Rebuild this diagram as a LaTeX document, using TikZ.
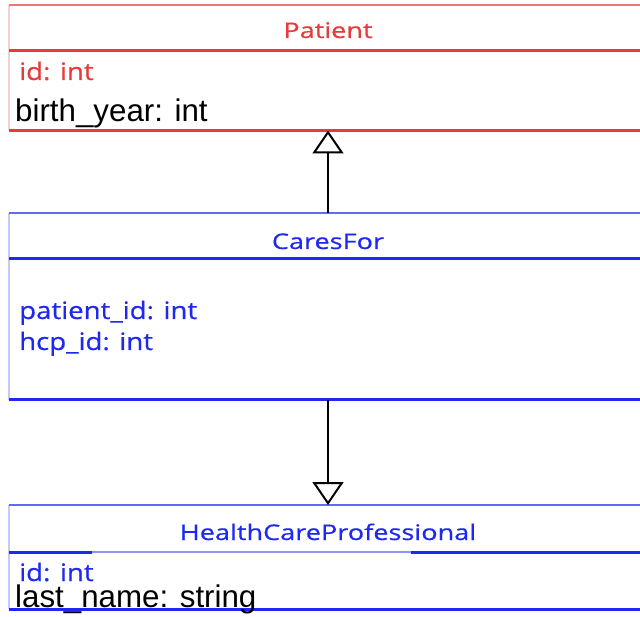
\documentclass[tikz,border=0pt]{standalone}
\usepackage{fontspec}
\newfontfamily\umltitlefont[FakeStretch=1.26,FakeBold=0.6]{Open Sans}
\newfontfamily\umlattrfont[FakeStretch=1.15,FakeBold=0.5]{Open Sans}
\newfontfamily\arialfont{Liberation Sans}
\usetikzlibrary{arrows.meta}
\definecolor{umlred}{RGB}{232,58,58}
\definecolor{umlblue}{RGB}{30,40,240}
\begin{document}
\begin{tikzpicture}[x=1pt,y=-1pt,
  classbox/.style={draw=none,minimum width=638pt,inner sep=0pt,outer sep=0pt},
  title/.style={anchor=base,font=\umltitlefont\fontsize{21.5}{21.5}\selectfont,inner sep=0pt},
  attr/.style={anchor=base west,font=\umlattrfont\fontsize{24}{24}\selectfont,inner sep=0pt},
  plain/.style={anchor=base west,font=\arialfont\fontsize{31.3}{31.3}\selectfont,inner sep=0pt,text=black},
  side/.style={line width=2pt},
  topedge/.style={line width=2pt},
  rule/.style={line width=3pt},
  thinrule/.style={line width=2pt},
  inherit/.style={draw=black,line width=2.6pt,-{Triangle[open,length=23pt,width=31pt,line width=2pt]}}
]
\useasboundingbox[fill=white] (0,0) rectangle (640,617);

% class boxes
\node[classbox,minimum height=125pt] (patient) at (328,68) {};
\node[classbox,minimum height=187pt] (caresfor) at (328,306.5) {};
\node[classbox,minimum height=104pt] (hcp) at (328,557) {};

% Patient
\draw[side,umlred!25] (patient.south west) -- (patient.north west);
\draw[topedge,umlred!70] (patient.north west) -- (patient.north east);
\draw[rule,umlred] (patient.west |- 0,51) -- (patient.east |- 0,51);
\draw[rule,umlred] (patient.south west) -- (patient.south east);
\node[title,text=umlred] (patientname) at (328,38) {Patient};
\node[attr,text=umlred] (patientid) at (19,80) {id: int};
\node[plain] (patientyear) at (15,122) {birth\_year: int};

% CaresFor
\draw[side,umlblue!25] (caresfor.south west) -- (caresfor.north west);
\draw[topedge,umlblue!70] (caresfor.north west) -- (caresfor.north east);
\draw[rule,umlblue] (caresfor.west |- 0,259) -- (caresfor.east |- 0,259);
\draw[rule,umlblue] (caresfor.south west) -- (caresfor.south east);
\node[title,text=umlblue] (caresname) at (328,249) {CaresFor};
\node[attr,text=umlblue] (caresp) at (19,319) {patient\_id: int};
\node[attr,text=umlblue] (caresh) at (19,350) {hcp\_id: int};

% HealthCareProfessional
\draw[side,umlblue!25] (hcp.south west) -- (hcp.north west);
\draw[topedge,umlblue!70] (hcp.north west) -- (hcp.north east);
\draw[rule,umlblue] (hcp.west |- 0,552) -- (92,552);
\draw[thinrule,umlblue!50] (92,551.5) -- (411,551.5);
\draw[rule,umlblue] (411,552) -- (hcp.east |- 0,552);
\draw[rule,umlblue] (hcp.south west) -- (hcp.south east);
\node[title,text=umlblue] (hcpname) at (328,540) {HealthCareProfessional};
\node[attr,text=umlblue] (hcpid) at (19,581) {id: int};
\node[plain] (hcplast) at (15,607) {last\_name: string};

% relations
\draw[inherit] (caresfor.north) -- (patient.south);
\draw[inherit] (caresfor.south) -- (hcp.north);
\end{tikzpicture}
\end{document}
